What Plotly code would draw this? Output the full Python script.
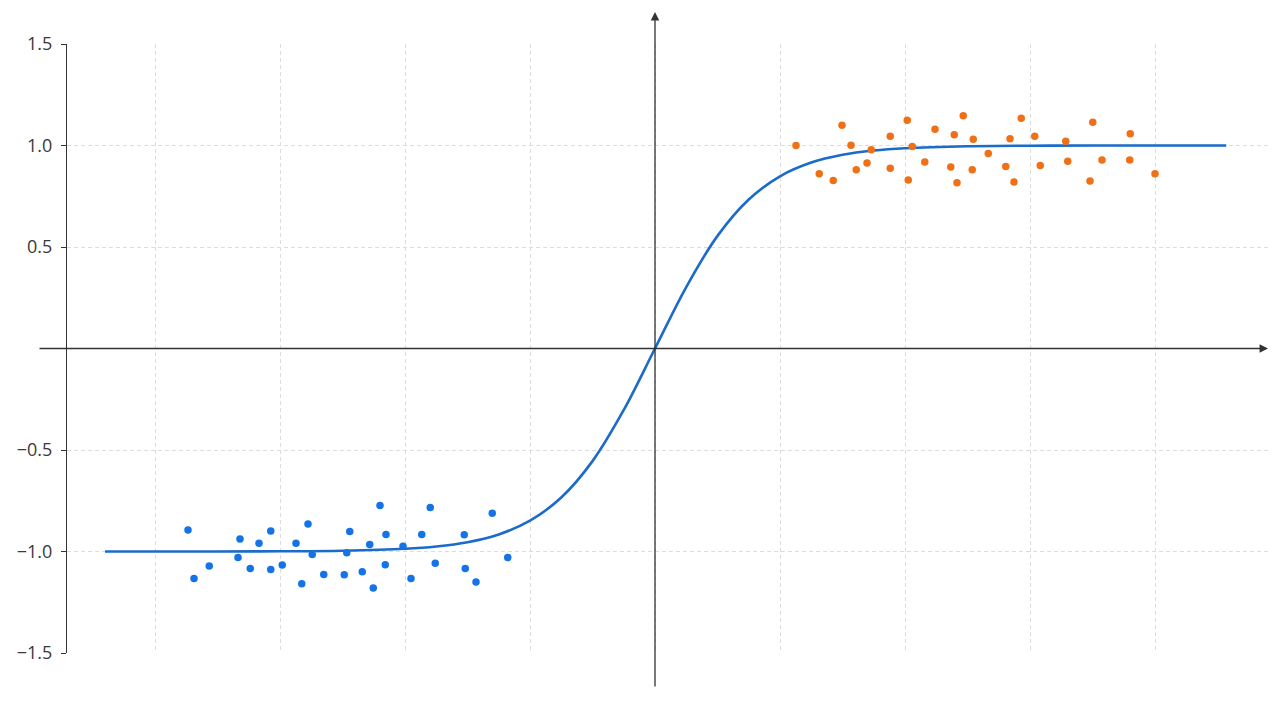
import plotly.graph_objects as go

# ---- data ----
blue_x = [-3.736, -3.688, -3.566, -3.320, -3.336, -3.238, -3.168, -3.074, -3.074, -2.982,
          -2.872, -2.776, -2.742, -2.826, -2.650, -2.486, -2.466, -2.442, -2.342, -2.282,
          -2.254, -2.200, -2.152, -2.158, -2.016, -1.952, -1.866, -1.798, -1.758, -1.526,
          -1.518, -1.432, -1.302, -1.178]
blue_y = [-0.894, -1.133, -1.071, -0.939, -1.030, -1.084, -0.959, -0.899, -1.089, -1.066,
          -0.959, -0.865, -1.015, -1.159, -1.113, -1.114, -1.006, -0.902, -1.100, -0.965,
          -1.180, -0.773, -0.916, -1.065, -0.974, -1.133, -0.916, -0.783, -1.058, -0.917,
          -1.084, -1.150, -0.811, -1.030]

orange_x = [1.128, 1.314, 1.426, 1.496, 1.568, 1.610, 1.696, 1.730, 1.882, 1.882,
            2.018, 2.058, 2.026, 2.158, 2.240, 2.394, 2.366, 2.416, 2.466, 2.546,
            2.538, 2.666, 2.806, 2.840, 2.872, 2.930, 3.038, 3.082, 3.286, 3.302,
            3.480, 3.502, 3.576, 3.802, 3.798, 4.000]
orange_y = [1.000, 0.861, 0.828, 1.100, 1.001, 0.881, 0.914, 0.979, 1.045, 0.888,
            1.125, 0.995, 0.830, 0.919, 1.080, 1.053, 0.894, 0.816, 1.147, 1.031,
            0.881, 0.960, 0.896, 1.033, 0.820, 1.134, 1.046, 0.902, 1.021, 0.922,
            0.825, 1.115, 0.929, 1.058, 0.929, 0.861]

curve_x = [-4.4, -3.5, -3.0, -2.5, -2.0, -1.75, -1.5, -1.25, -1.0, -0.75, -0.5, -0.25, 0.0,
           0.25, 0.5, 0.75, 1.0, 1.25, 1.5, 1.75, 2.0, 2.5, 3.0, 3.5, 4.57]
curve_y = [-1.0, -0.9997, -0.9989, -0.9962, -0.9866, -0.9751, -0.9540, -0.9158, -0.8483,
           -0.7341, -0.5548, -0.3028, 0.0, 0.3028, 0.5548, 0.7341, 0.8483, 0.9158, 0.9540,
           0.9751, 0.9866, 0.9962, 0.9989, 0.9997, 1.0]

y_tickvals = [-1.5, -1.0, -0.5, 0.5, 1.0, 1.5]
y_ticktext = ["\u22121.5", "\u22121.0", "\u22120.5", "0.5", "1.0", "1.5"]

X_RANGE = [-4.704, 4.904]
Y_RANGE = [-1.5, 1.5]

fig = go.Figure()

fig.add_trace(go.Scatter(x=curve_x, y=curve_y, mode="lines",
                         line=dict(color="#1b6bca", width=2.6, shape="spline", smoothing=1.0),
                         hoverinfo="skip", showlegend=False))
fig.add_trace(go.Scatter(x=blue_x, y=blue_y, mode="markers",
                         marker=dict(color="#1473e6", size=7.5), showlegend=False))
fig.add_trace(go.Scatter(x=orange_x, y=orange_y, mode="markers",
                         marker=dict(color="#f07016", size=7.5), showlegend=False))

grid_color = "#dcdcdc"
fig.update_xaxes(range=X_RANGE, showticklabels=False, showgrid=True, gridcolor=grid_color,
                 griddash="4px,3px", gridwidth=1, tick0=0, dtick=1, zeroline=False,
                 showline=False, ticks="", fixedrange=True)
fig.update_yaxes(range=Y_RANGE, tickmode="array", tickvals=y_tickvals, ticktext=y_ticktext,
                 showgrid=True, gridcolor=grid_color, griddash="4px,3px", gridwidth=1,
                 zeroline=False, showline=True, linecolor="#333333", linewidth=1.3,
                 ticks="outside", ticklen=5, tickwidth=1.3, tickcolor="#333333",
                 ticklabelstandoff=5,
                 tickfont=dict(family="Open Sans", size=18, color="#3a3a3a"), fixedrange=True)

# axis arrows
fig.add_annotation(x=1.0, y=0, xref="paper", yref="y", ax=-1230, ay=0,
                   axref="pixel", ayref="pixel", text="", showarrow=True,
                   arrowhead=2, arrowsize=1.3, arrowwidth=1.3, arrowcolor="#333333",
                   standoff=0, startstandoff=0)
fig.add_annotation(x=0, y=1.0525, xref="x", yref="paper", ax=0, ay=676,
                   axref="pixel", ayref="pixel", text="", showarrow=True,
                   arrowhead=2, arrowsize=1.3, arrowwidth=1.3, arrowcolor="#333333",
                   standoff=0, startstandoff=0)

fig.update_layout(width=1280, height=702, margin=dict(l=67, r=12, t=44, b=49),
                  paper_bgcolor="white", plot_bgcolor="white",
                  font=dict(family="Open Sans"))

fig.write_html("out.html")
